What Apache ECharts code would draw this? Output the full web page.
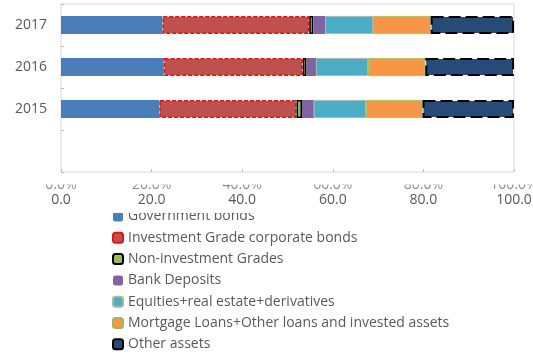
<!DOCTYPE html>
<html>
<head>
<meta charset="utf-8">
<script src="https://cdn.jsdelivr.net/npm/echarts@6/dist/echarts.min.js"></script>
<style>
  html, body { margin: 0; padding: 0; background: #ffffff; }
  #chart { width: 533px; height: 354px; }
</style>
</head>
<body>
<div id="chart"></div>
<script>
// Asset allocation shares (%) by year
const years = ['2017', '2016', '2015', ''];
const governmentBonds   = [22.4, 22.7, 21.7, null];
const investmentGrade   = [32.4, 30.7, 30.3, null];
const nonInvestment     = [0.9, 0.8, 1.2, null];
const bankDeposits      = [2.6, 2.1, 2.6, null];
const equitiesRealEst   = [10.6, 11.5, 11.5, null];
const mortgageLoans     = [12.7, 12.6, 12.5, null];
const otherAssets       = [18.4, 19.6, 20.2, null];
const xTicks = [0, 20, 40, 60, 80, 100];

const FONT = '"Open Sans", "Noto Sans", sans-serif';
const chart = echarts.init(document.getElementById('chart'), null, { renderer: 'canvas' });

function barSeries(name, data, itemStyle) {
  return {
    name, type: 'bar', stack: 'total', data,
    barWidth: 18,
    xAxisIndex: 0, yAxisIndex: 0,
    itemStyle: Object.assign({ borderWidth: 0 }, itemStyle),
    emphasis: { disabled: true }
  };
}

chart.setOption({
  animation: false,
  backgroundColor: '#ffffff',
  textStyle: { fontFamily: FONT },
  grid: {
    left: 61, top: 4, width: 453, height: 168,
    containLabel: false, outerBoundsMode: 'none',
    show: true, borderColor: '#d9d9d9', borderWidth: 1, backgroundColor: 'transparent'
  },
  xAxis: [
    {
      type: 'value', min: 0, max: 100, interval: 20,
      position: 'bottom',
      axisLine: { show: false },
      axisTick: { show: true, inside: true, length: 3, lineStyle: { color: '#bfbfbf' } },
      splitLine: { show: false },
      axisLabel: {
        margin: 21, color: '#595959', fontSize: 14, fontFamily: FONT,
        formatter: v => xTicks.includes(v) ? v.toFixed(1) : ''
      }
    },
    {
      type: 'value', min: 0, max: 100, interval: 20,
      position: 'bottom',
      axisLine: { show: false },
      axisTick: { show: false },
      splitLine: { show: false },
      axisLabel: {
        margin: 6, color: '#8c8c8c', fontSize: 14, fontFamily: FONT,
        formatter: v => xTicks.includes(v) ? v.toFixed(1) + '%' : ''
      }
    }
  ],
  yAxis: {
    type: 'category', data: years, inverse: true,
    axisLine: { show: false },
    axisTick: { show: true, inside: true, length: 3, lineStyle: { color: '#bfbfbf' } },
    axisLabel: { margin: 14, color: '#595959', fontSize: 14, fontFamily: FONT }
  },
  legend: {
    orient: 'vertical', left: 112, top: 209, height: 150,
    padding: 0,
    itemWidth: 10, itemHeight: 10, itemGap: 6.3,
    textStyle: { color: '#595959', fontSize: 14, lineHeight: 15, fontFamily: FONT },
    data: ['Government bonds', 'Investment Grade corporate bonds', 'Non-investment Grades',
           'Bank Deposits', 'Equities+real estate+derivatives',
           'Mortgage Loans+Other loans and invested assets', 'Other assets']
  },
  series: [
    barSeries('Government bonds', governmentBonds, { color: '#4a7ebb' }),
    barSeries('Investment Grade corporate bonds', investmentGrade,
      { color: '#c0504d', borderColor: '#d01c1c', borderWidth: 1.5, borderType: [4, 2] }),
    barSeries('Non-investment Grades', nonInvestment,
      { color: '#9bbb59', borderColor: '#000000', borderWidth: 1.5 }),
    barSeries('Bank Deposits', bankDeposits, { color: '#8064a2' }),
    barSeries('Equities+real estate+derivatives', equitiesRealEst,
      { color: '#4bacc6', borderColor: '#a9b8a0', borderWidth: 0.8 }),
    barSeries('Mortgage Loans+Other loans and invested assets', mortgageLoans,
      { color: '#f79646', borderColor: '#9bbb59', borderWidth: 0.8 }),
    barSeries('Other assets', otherAssets,
      { color: '#264b78', borderColor: '#000000', borderWidth: 2, borderType: [12, 5] })
  ],
  graphic: [
    // white bands that overlap the upper label rows
    { type: 'rect', z: 100, shape: { x: 0, y: 173, width: 533, height: 11.5 }, style: { fill: '#ffffff' } },
    { type: 'rect', z: 100, shape: { x: 0, y: 207.5, width: 533, height: 5.5 }, style: { fill: '#ffffff' } }
  ]
});
</script>
</body>
</html>
